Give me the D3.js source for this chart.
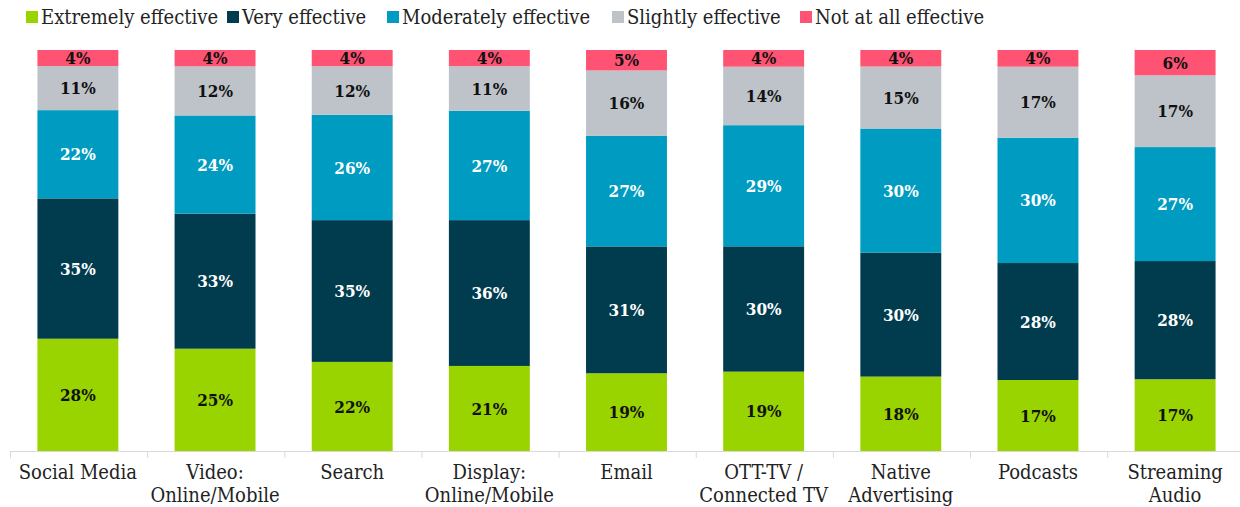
<!DOCTYPE html>
<html>
<head>
<meta charset="utf-8">
<script src="https://cdn.jsdelivr.net/npm/d3@7"></script>
<style>
  body { margin: 0; background: #fff; }
  svg text { font-family: "DejaVu Serif Condensed", "DejaVu Serif", serif; font-stretch: condensed; }
</style>
</head>
<body>
<script>
// chart data
var categories = ["Social Media", "Video:\nOnline/Mobile", "Search", "Display:\nOnline/Mobile", "Email",
  "OTT-TV /\nConnected TV", "Native\nAdvertising", "Podcasts", "Streaming\nAudio"];
var seriesNames = ["Extremely effective", "Very effective", "Moderately effective", "Slightly effective", "Not at all effective"];
var extremely = [28, 25, 22, 21, 19, 19, 18, 17, 17];
var very = [35, 33, 35, 36, 31, 30, 30, 28, 28];
var moderately = [22, 24, 26, 27, 27, 29, 30, 30, 27];
var slightly = [11, 12, 12, 11, 16, 14, 15, 17, 17];
var notAtAll = [4, 4, 4, 4, 5, 4, 4, 4, 6];

var colors = ["#99d400", "#003c4e", "#009bc0", "#bdc3c9", "#ff5373"];
var labelColors = ["#111", "#fff", "#fff", "#111", "#111"];

var width = 1240, height = 507;
var plotTop = 50, plotBottom = 451;

var rows = categories.map(function(c, i) {
  var r = {cat: c};
  r[seriesNames[0]] = extremely[i];
  r[seriesNames[1]] = very[i];
  r[seriesNames[2]] = moderately[i];
  r[seriesNames[3]] = slightly[i];
  r[seriesNames[4]] = notAtAll[i];
  return r;
});

// bars are shown as share of 100
var stacked = d3.stack().keys(seriesNames).offset(d3.stackOffsetExpand)(rows);

var x = d3.scaleBand().domain(categories).range([10, 1243]).paddingInner(0.41).paddingOuter(0.2);
var y = d3.scaleLinear().domain([0, 1]).range([plotBottom, plotTop]);

var svg = d3.select("body").append("svg")
  .attr("width", width)
  .attr("height", height);

var layers = svg.selectAll("g.layer")
  .data(stacked)
  .enter().append("g")
  .attr("class", "layer")
  .attr("fill", function(d, i) { return colors[i]; });

layers.selectAll("rect")
  .data(function(d) { return d; })
  .enter().append("rect")
  .attr("x", function(d) { return x(d.data.cat); })
  .attr("width", x.bandwidth())
  .attr("y", function(d) { return y(d[1]); })
  .attr("height", function(d) { return y(d[0]) - y(d[1]); });

layers.each(function(layer, i) {
  d3.select(this).selectAll("text")
    .data(layer)
    .enter().append("text")
    .attr("x", function(d) { return x(d.data.cat) + x.bandwidth() / 2; })
    .attr("y", function(d) { return (y(d[0]) + y(d[1])) / 2; })
    .attr("dy", "0.36em")
    .attr("text-anchor", "middle")
    .attr("font-size", 17)
    .attr("font-weight", "bold")
    .attr("fill", labelColors[i])
    .text(function(d) { return d.data[layer.key] + "%"; });
});

// x axis with ticks between the bands
var step = x.step();
var bounds = d3.range(categories.length + 1).map(function(i) { return x.range()[0] + i * step; });
svg.append("line")
  .attr("x1", 10).attr("x2", 1243)
  .attr("y1", plotBottom + 0.5).attr("y2", plotBottom + 0.5)
  .attr("stroke", "#d9d9d9");
svg.selectAll("line.tick")
  .data(bounds)
  .enter().append("line")
  .attr("class", "tick")
  .attr("x1", function(d) { return d + 0.5; })
  .attr("x2", function(d) { return d + 0.5; })
  .attr("y1", plotBottom).attr("y2", plotBottom + 7)
  .attr("stroke", "#d9d9d9");

svg.selectAll("text.cat")
  .data(categories)
  .enter().append("text")
  .attr("class", "cat")
  .attr("text-anchor", "middle")
  .attr("font-size", 20)
  .attr("fill", "#222")
  .attr("x", function(d) { return x(d) + x.bandwidth() / 2; })
  .attr("y", 479)
  .each(function(d) {
    var t = d3.select(this);
    d.split("\n").forEach(function(line, k) {
      t.append("tspan")
        .attr("x", t.attr("x"))
        .attr("dy", k === 0 ? 0 : 23)
        .text(line);
    });
  });

// legend
var legendX = [26, 227, 387, 612, 800];
var legend = svg.selectAll("g.legend")
  .data(seriesNames)
  .enter().append("g")
  .attr("class", "legend")
  .attr("transform", function(d, i) { return "translate(" + legendX[i] + ",17)"; });
legend.append("rect")
  .attr("x", 0).attr("y", -6)
  .attr("width", 12).attr("height", 12)
  .attr("fill", function(d, i) { return colors[i]; });
legend.append("text")
  .attr("x", 15)
  .attr("dy", "0.35em")
  .attr("font-size", 20)
  .attr("fill", "#222")
  .text(function(d) { return d; });
</script>
</body>
</html>
